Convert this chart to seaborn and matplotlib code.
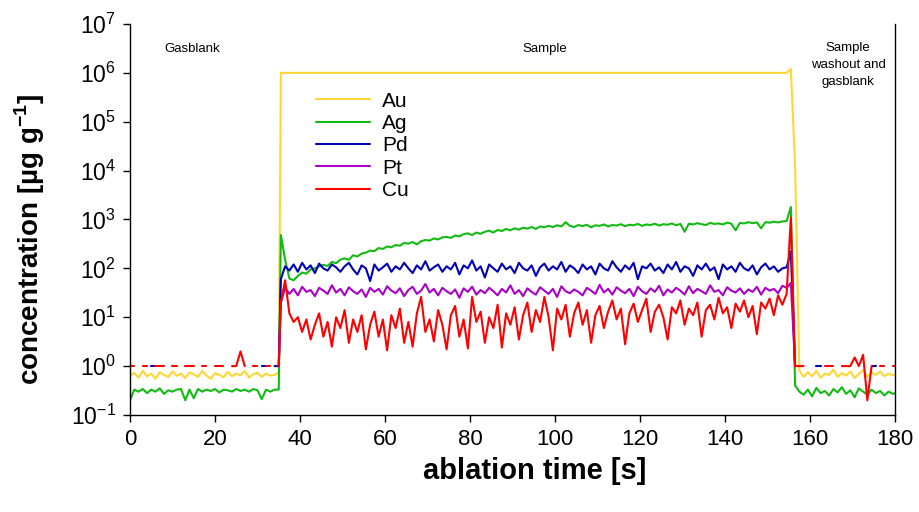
import numpy as np
import pandas as pd
import seaborn as sns
import matplotlib.pyplot as plt
from matplotlib.ticker import FixedLocator, NullLocator, FuncFormatter

nan = np.nan

# ========================================
# 0. Data
# ========================================
elements = ['Au', 'Ag', 'Pd', 'Pt', 'Cu']
colors = ['#ffd633', '#11bb11', '#0000b4', '#aa00c8', '#ff0000']

# time axis [s] for the three phases
time_blank = np.arange(0, 36, 1.0)          # 0 .. 35
time_sample = np.arange(35.5, 156.0, 1.0)   # 35.5 .. 155.5
time_wash = np.arange(156.5, 181.0, 1.0)    # 156.5 .. 180.5

# --- gas blank (36 values) ---
au_blank = [0.65, 0.72, 0.58, 0.8, 0.62, 0.7, 0.55, 0.75, 0.66, 0.6,
            0.78, 0.63, 0.7, 0.57, 0.74, 0.68, 0.6, 0.8, 0.64, 0.55,
            0.72, 0.66, 0.59, 0.76, 0.62, 0.7, 0.65, 0.8, 0.58, 0.68,
            0.73, 0.6, 0.7, 0.64, 0.66, 0.75]
ag_blank = [0.2, 0.33, 0.3, 0.34, 0.28, 0.33, 0.3, 0.35, 0.27, 0.32,
            0.3, 0.33, 0.34, 0.2, 0.33, 0.22, 0.34, 0.3, 0.33, 0.31,
            0.34, 0.29, 0.33, 0.32, 0.3, 0.34, 0.31, 0.33, 0.3, 0.34,
            0.32, 0.21, 0.33, 0.3, 0.33, 0.33]
pd_blank = [nan, nan, nan, nan, nan, 1, 1, nan, nan, nan,
            nan, nan, nan, nan, nan, nan, nan, nan, nan, nan,
            nan, nan, nan, nan, nan, nan, nan, nan, nan, nan,
            nan, 1, 1, nan, 1, 1]
pt_blank = [nan] * 35 + [1]
cu_blank = [1, 1, nan, 1, 1, nan, 1, 1, 1, nan,
            1, 1, nan, 1, 1, 1, nan, 1, 1, nan,
            1, 1, 1, nan, 1, 1, 2.0, 1, nan, 1,
            1, nan, 1, 1, nan, 1]

# --- sample ablation (121 values) ---
au_sample = [1e6] * 120 + [1.2e6]
ag_sample = [480, 150, 62, 57, 70, 82, 78, 95, 100, 110,
             118, 112, 135, 128, 150, 160, 150, 185, 175, 200,
             210, 230, 225, 260, 250, 280, 270, 300, 290, 330,
             320, 345, 310, 360, 380, 370, 410, 390, 430, 440,
             420, 470, 450, 500, 520, 480, 540, 510, 560, 590,
             540, 610, 580, 640, 600, 660, 620, 680, 650, 700,
             640, 720, 690, 740, 700, 760, 720, 880, 740, 700,
             770, 730, 780, 690, 760, 740, 790, 720, 770, 750,
             800, 730, 780, 760, 810, 740, 790, 770, 820, 750,
             800, 780, 830, 760, 810, 560, 820, 790, 840, 800,
             770, 850, 810, 830, 790, 860, 820, 600, 850, 830,
             880, 840, 870, 660, 880, 860, 900, 870, 910, 930,
             1800]
pd_sample = [60, 110, 90, 120, 85, 130, 95, 115, 80, 125,
             100, 90, 120, 105, 85, 110, 130, 95, 75, 115,
             100, 55, 120, 90, 105, 125, 85, 110, 95, 130,
             100, 80, 115, 95, 140, 90, 105, 120, 85, 110,
             95, 130, 75, 115, 100, 145, 90, 110, 65, 120,
             100, 85, 125, 95, 110, 80, 130, 100, 90, 115,
             70, 105, 125, 90, 110, 95, 135, 85, 115, 100,
             80, 120, 95, 110, 75, 125, 100, 90, 140, 105,
             85, 115, 95, 130, 60, 110, 100, 125, 90, 105,
             80, 120, 95, 135, 85, 110, 100, 70, 115, 95,
             125, 90, 105, 60, 120, 95, 110, 85, 130, 100,
             90, 115, 75, 105, 125, 95, 110, 85, 100, 105,
             220]
pt_sample = [20, 40, 30, 38, 28, 42, 33, 36, 27, 40,
             35, 30, 45, 32, 38, 28, 41, 34, 30, 37,
             26, 40, 33, 38, 29, 43, 35, 31, 39, 27,
             36, 42, 30, 35, 48, 32, 38, 28, 40, 34,
             30, 37, 25, 39, 33, 42, 29, 36, 31, 40,
             34, 28, 38, 32, 45, 30, 36, 27, 39, 33,
             29, 41, 35, 30, 38, 26, 43, 34, 31, 37,
             33, 28, 40, 35, 30, 46, 32, 38, 29, 41,
             35, 31, 38, 27, 42, 34, 30, 39, 33, 44,
             28, 37, 32, 40, 35, 29, 43, 31, 38, 34,
             30, 45, 33, 36, 28, 41, 35, 32, 39, 30,
             37, 33, 42, 29, 40, 35, 38, 31, 44, 40,
             50]
cu_sample = [20, 57, 12, 8, 10, 5, 9, 3.5, 7, 12,
             4, 8, 2.5, 10, 6, 14, 3, 9, 5, 11,
             2.2, 7, 13, 4, 9, 2.1, 11, 6, 15, 3,
             8, 2.5, 12, 26, 5, 9, 3.2, 14, 7, 2.2,
             11, 17, 4, 9, 2.3, 26, 8, 13, 3, 10,
             6, 18, 2.4, 12, 7, 16, 3.5, 11, 20, 5,
             14, 8, 26, 10, 2.1, 15, 9, 18, 4, 12,
             20, 7, 14, 3, 11, 17, 6, 13, 22, 9,
             15, 2.8, 12, 19, 8, 14, 24, 5, 13, 18,
             10, 3.5, 16, 12, 22, 7, 15, 11, 20, 4,
             14, 18, 9, 25, 12, 16, 6, 19, 13, 22,
             10, 17, 4.5, 20, 15, 24, 11, 28, 18, 30,
             1100]

# --- washout and gas blank (25 values) ---
au_wash = [12000, 0.8, 0.6, 0.75, 0.62, 0.8, 0.58, 0.7, 0.66, 0.85,
           0.6, 0.72, 0.64, 0.78, 0.57, 0.7, 0.82, 0.6, 0.74, 0.66,
           0.78, 0.62, 0.7, 0.65, 0.68]
ag_wash = [0.4, 0.3, 0.26, 0.33, 0.24, 0.36, 0.28, 0.31, 0.25, 0.34,
           0.29, 0.37, 0.27, 0.32, 0.23, 0.35, 0.3, 0.26, 0.33, 0.28,
           0.31, 0.25, 0.3, 0.27, 0.29]
pd_wash = [1, nan, nan, nan, nan, 1, 1, nan, nan, nan,
           nan, nan, nan, nan, nan, nan, nan, nan, 1, 1,
           nan, nan, nan, nan, nan]
pt_wash = [1] + [nan] * 24
cu_wash = [1, 1, 1, nan, 1, nan, nan, 1, 1, 1,
           nan, 1, 1, 1, 1.5, 1, 1.7, 0.2, 1, nan,
           1, 1, nan, 1, 1]

series = {
    'Au': au_blank + au_sample + au_wash,
    'Ag': ag_blank + ag_sample + ag_wash,
    'Pd': pd_blank + pd_sample + pd_wash,
    'Pt': pt_blank + pt_sample + pt_wash,
    'Cu': cu_blank + cu_sample + cu_wash,
}
time = np.concatenate([time_blank, time_sample, time_wash])

# long table; NaN points split a trace into separate segments
frames = []
for el in elements:
    y = np.array(series[el], dtype=float)
    seg = np.cumsum(np.isnan(y))
    df = pd.DataFrame({'time': time, 'conc': y, 'element': el,
                       'segment': [f'{el}_{s}' for s in seg]})
    frames.append(df[~np.isnan(y)])
data = pd.concat(frames, ignore_index=True)

# ========================================
# 1. Plot
# ========================================
sns.set_style('ticks')
plt.rcParams['font.family'] = ['Liberation Sans', 'DejaVu Sans']
plt.rcParams['mathtext.fontset'] = 'custom'
plt.rcParams['mathtext.rm'] = 'Liberation Sans'
plt.rcParams['mathtext.bf'] = 'Liberation Sans:bold'
for key in ['text.color', 'axes.labelcolor', 'xtick.color', 'ytick.color']:
    plt.rcParams[key] = 'black'

fig = plt.figure(figsize=(9.2, 5.12), dpi=100)
ax = fig.add_axes([0.1413, 0.1895, 0.8315, 0.7637])

sns.lineplot(data=data, x='time', y='conc', hue='element', hue_order=elements,
             palette=dict(zip(elements, colors)), units='segment',
             estimator=None, sort=False, linewidth=1.5, ax=ax)

ax.set_yscale('log')
ax.set_ylim(0.1, 1e7)
ax.set_xlim(0, 180)
ax.yaxis.set_major_locator(FixedLocator(10.0 ** np.arange(-1, 8)))
ax.yaxis.set_minor_locator(NullLocator())
ax.yaxis.set_major_formatter(FuncFormatter(
    lambda v, p: f'$10^{{{int(round(np.log10(v)))}}}$'))
ax.set_xticks(np.arange(0, 181, 20))

for side in ['left', 'bottom', 'right']:
    ax.spines[side].set_visible(True)
    ax.spines[side].set_color('black')
    ax.spines[side].set_linewidth(1.0)
ax.spines['top'].set_visible(False)
ax.tick_params(axis='both', direction='out', length=5, width=1,
               colors='black', pad=5)
ax.tick_params(axis='x', labelsize=16)
ax.tick_params(axis='y', labelsize=16.5)
ax.tick_params(right=False, top=False)

ax.set_xlabel('ablation time [s]', fontsize=21, weight='bold')
ax.xaxis.set_label_coords(0.529, -0.108)
ax.set_ylabel('concentration [µg g$^{\\mathbf{-1}}$]', fontsize=20,
              weight='bold')
ax.yaxis.set_label_coords(-0.108, 0.448)

# phase annotations
ax.text(14.6, 0.937, 'Gasblank', transform=ax.get_xaxis_transform(),
        ha='center', va='center', fontsize=9.5)
ax.text(97.6, 0.937, 'Sample', transform=ax.get_xaxis_transform(),
        ha='center', va='center', fontsize=9.5)
ax.text(169, 0.953, 'Sample\nwashout and\ngasblank',
        transform=ax.get_xaxis_transform(), ha='center', va='top',
        fontsize=9.5, linespacing=1.55)

sns.move_legend(ax, 'upper left', bbox_to_anchor=(0.218, 0.875), frameon=False,
                title=None, fontsize=15, handlelength=2.6, labelspacing=0.16,
                handletextpad=0.6)

fig.savefig('out.png', dpi=100)
